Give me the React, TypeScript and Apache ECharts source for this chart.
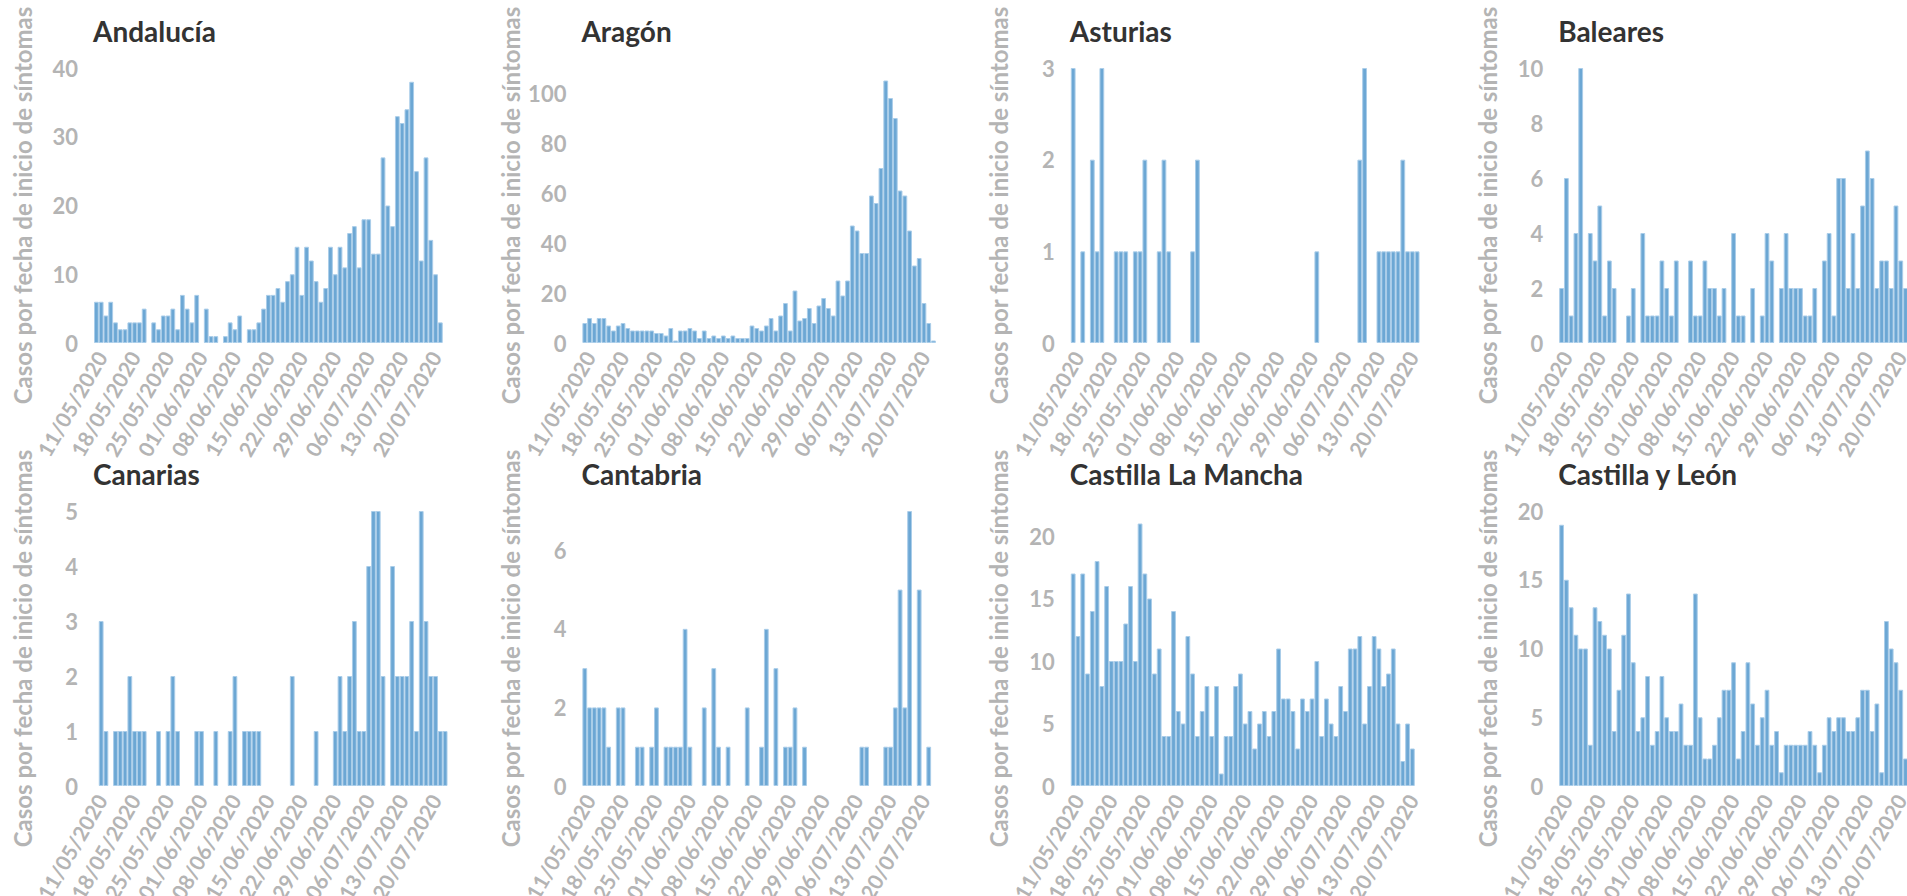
import React, { useEffect, useRef } from "react";
import * as echarts from "echarts";

// Categories: daily dates 10/05/2020 .. 22/07/2020 (74 days)
const START = Date.UTC(2020, 4, 10);
const NUM_DAYS = 74;
const dates: string[] = [];
for (let i = 0; i < NUM_DAYS; i++) {
  const d = new Date(START + i * 86400000);
  const dd = String(d.getUTCDate()).padStart(2, "0");
  const mm = String(d.getUTCMonth() + 1).padStart(2, "0");
  dates.push(`${dd}/${mm}/${d.getUTCFullYear()}`);
}

const regionNames = [
  "Andalucía",
  "Aragón",
  "Asturias",
  "Baleares",
  "Canarias",
  "Cantabria",
  "Castilla La Mancha",
  "Castilla y León",
];

const andalucia = [6,6,4,6,3,2,2,3,3,3,5,0,3,2,4,4,5,2,7,5,3,7,0,5,1,1,0,1,3,2,4,0,2,2,3,5,7,7,8,6,9,10,14,7,14,12,9,6,8,14,10,14,11,16,17,11,18,18,13,13,27,20,17,33,32,34,38,25,12,27,15,10,3,0];
const aragon = [8,10,8,10,10,7,5,7,8,6,5,5,5,5,5,4,4,3,6,1,5,5,6,5,2,5,2,3,2,3,2,3,2,2,2,7,6,5,7,10,5,11,16,5,21,9,10,14,8,15,18,14,11,25,19,25,47,45,36,36,59,56,70,105,98,90,61,59,45,31,34,16,8,1];
const asturias = [3,0,1,0,2,1,3,0,0,1,1,1,0,1,1,2,0,0,1,2,1,0,0,0,0,1,2,0,0,0,0,0,0,0,0,0,0,0,0,0,0,0,0,0,0,0,0,0,0,0,0,1,0,0,0,0,0,0,0,0,2,3,0,0,1,1,1,1,1,2,1,1,1,0];
const baleares = [2,6,1,4,10,0,4,3,5,1,3,2,0,0,1,2,0,4,1,1,1,3,2,1,3,0,0,3,1,1,3,2,2,1,2,0,4,1,1,0,2,0,1,4,3,0,2,4,2,2,2,1,1,2,0,3,4,1,6,6,2,4,2,5,7,6,2,3,3,2,5,3,2,0];
const canarias = [0,3,1,0,1,1,1,2,1,1,1,0,0,1,0,1,2,1,0,0,0,1,1,0,0,1,0,0,1,2,0,1,1,1,1,0,0,0,0,0,0,2,0,0,0,0,1,0,0,0,1,2,1,2,3,1,1,4,5,5,2,0,4,2,2,2,3,1,5,3,2,2,1,1];
const cantabria = [3,2,2,2,2,1,0,2,2,0,0,1,1,0,1,2,0,1,1,1,1,4,1,0,0,2,0,3,1,0,1,0,0,0,2,0,0,1,4,0,3,0,1,1,2,0,1,0,0,0,0,0,0,0,0,0,0,0,1,1,0,0,0,1,1,2,5,2,7,0,5,0,1,0];
const castillaLaMancha = [17,12,17,9,14,18,8,16,10,10,10,13,16,10,21,17,15,9,11,4,4,14,6,5,12,9,4,6,8,4,8,1,4,4,8,9,5,6,3,5,6,4,6,11,7,7,6,3,7,6,7,10,4,7,5,4,8,6,11,11,12,5,8,12,11,8,9,11,5,2,5,3,0,0];
const castillaYLeon = [19,15,13,11,10,10,3,13,12,11,10,4,7,11,14,9,4,5,8,3,4,8,5,4,4,6,3,3,14,5,2,2,3,5,7,7,9,2,4,9,6,3,5,7,3,4,1,3,3,3,3,3,4,3,1,3,5,4,5,5,4,4,5,7,7,4,6,1,12,10,9,7,2,0];

const regionData = [andalucia, aragon, asturias, baleares, canarias, cantabria, castillaLaMancha, castillaYLeon];
const yMax = [40, 110, 3, 10, 5, 7, 22, 20];
const yInterval = [10, 20, 1, 2, 1, 2, 5, 5];

const yAxisTitle = "Casos por fecha de inicio de síntomas";

const FONT = "Lato, 'Noto Sans', sans-serif";
const GRAY = "#b4b4b4";

export default function App() {
  const ref = useRef<HTMLDivElement>(null);

  useEffect(() => {
    if (!ref.current) return;
    const chart = echarts.init(ref.current, null, { renderer: "svg" });

    const colLeft = [94, 582.4, 1070.8, 1559.2];
    const rowTop = [68, 511];
    const plotW = 353.5;
    const plotH = 275;

    const grids: any[] = [];
    const xAxes: any[] = [];
    const yAxes: any[] = [];
    const series: any[] = [];
    const titles: any[] = [];

    regionNames.forEach((name, i) => {
      const col = i % 4;
      const row = Math.floor(i / 4);
      const left = colLeft[col];
      const top = rowTop[row];
      grids.push({
        left,
        top,
        width: plotW,
        height: plotH,
        containLabel: false,
        outerBoundsMode: "none",
      });
      titles.push({
        text: name,
        left: left - 1,
        top: top - 51,
        padding: 0,
        textStyle: { fontFamily: FONT, fontWeight: "bold", fontSize: 28, color: "#333333" },
      });
      xAxes.push({
        type: "category",
        gridIndex: i,
        data: dates,
        axisLine: { show: false },
        axisTick: { show: false },
        splitLine: { show: false },
        axisLabel: {
          interval: (idx: number) => idx % 7 === 1,
          rotate: 60,
          margin: 10,
          color: GRAY,
          fontFamily: FONT,
          fontWeight: "bold",
          fontSize: 21,
        },
      });
      yAxes.push({
        type: "value",
        gridIndex: i,
        min: 0,
        max: yMax[i],
        interval: yInterval[i],
        axisLine: { show: false },
        axisTick: { show: false },
        splitLine: { show: false },
        axisLabel: {
          margin: 16,
          color: GRAY,
          fontFamily: FONT,
          fontWeight: "bold",
          fontSize: 22,
          showMaxLabel: yMax[i] % yInterval[i] === 0,
        },
        name: yAxisTitle,
        nameLocation: "middle",
        nameRotate: 90,
        nameGap: 60,
        nameTextStyle: {
          color: GRAY,
          fontFamily: FONT,
          fontWeight: "bold",
          fontSize: 24,
        },
      });
      series.push({
        type: "bar",
        xAxisIndex: i,
        yAxisIndex: i,
        data: regionData[i].map((v) => (v === 0 ? null : v)),
        barCategoryGap: "0%",
        itemStyle: { color: "#6ca7d4", borderColor: "#aacde9", borderWidth: 1 },
      });
    });

    chart.setOption({
      animation: false,
      backgroundColor: "#ffffff",
      title: titles,
      grid: grids,
      xAxis: xAxes,
      yAxis: yAxes,
      series,
    });

    return () => chart.dispose();
  }, []);

  return (
    <div
      ref={ref}
      style={{ position: "absolute", left: 0, top: 0, width: 1907, height: 896 }}
    />
  );
}
